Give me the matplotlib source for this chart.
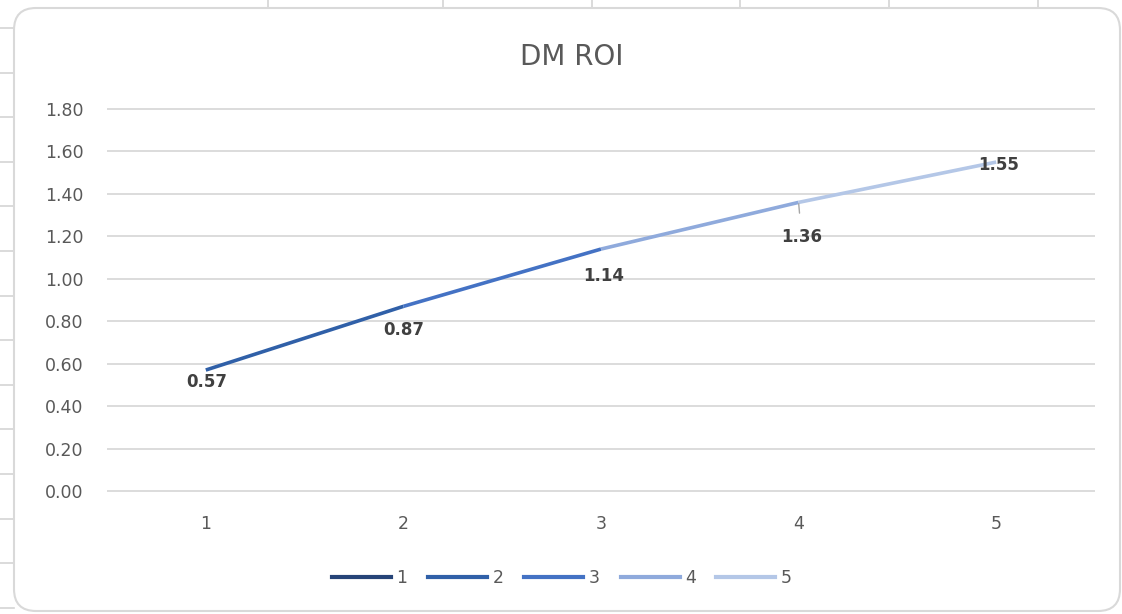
import matplotlib.pyplot as plt
from matplotlib.lines import Line2D
from matplotlib.patches import FancyBboxPatch
from matplotlib.transforms import IdentityTransform

plt.rcParams["font.family"] = ["DejaVu Sans"]

# chart values
categories = [1, 2, 3, 4, 5]
roi = [0.57, 0.87, 1.14, 1.36, 1.55]
series_names = ["1", "2", "3", "4", "5"]
point_colors = ["#264478", "#3060A8", "#4472C4", "#8FAADC", "#B4C7E7"]
y_ticks = [0.0, 0.2, 0.4, 0.6, 0.8, 1.0, 1.2, 1.4, 1.6, 1.8]

# label placement relative to each point (pixels)
label_offsets = [(1, -12), (0, -24), (3, -27), (3, -35), (2, -3)]

W, H = 1122, 614
fig = plt.figure(figsize=(W / 100, H / 100), dpi=100)
fig.patch.set_facecolor("white")

# spreadsheet cells showing around the chart object
cell_color = "#d4d4d4"
for x in [268, 443, 592, 740, 889, 1038]:
    fig.add_artist(Line2D([x / W, x / W], [1, 1 - 9 / H], color=cell_color, lw=1.2, zorder=-10))
for k in range(14):
    y = 28 + 44.6 * k
    fig.add_artist(Line2D([0, 14 / W], [1 - y / H, 1 - y / H], color=cell_color, lw=1.2, zorder=-10))

# chart area frame with rounded corners (display pixels, origin bottom-left)
frame = FancyBboxPatch((14, H - 611), 1106, 603,
                       boxstyle="round,pad=0,rounding_size=22",
                       transform=IdentityTransform(),
                       facecolor="white", edgecolor="#d9d9d9", lw=1.5, zorder=-5)
fig.add_artist(frame)

y0, y1 = -0.01, 1.81
px_per_unit = (491 - 109) / 1.8
bottom_px = 491 + 0.01 * px_per_unit
top_px = 109 - 0.01 * px_per_unit
ax = fig.add_axes([107 / W, 1 - bottom_px / H, 988 / W, (bottom_px - top_px) / H])
ax.set_facecolor("none")
ax.set_xlim(0.5, 5.5)
ax.set_ylim(y0, y1)

for s in ax.spines.values():
    s.set_visible(False)
ax.set_yticks(y_ticks)
ax.set_yticklabels([f"{v:.2f}" for v in y_ticks])
ax.set_xticks(categories)
ax.set_xticklabels([str(c) for c in categories])
ax.tick_params(axis="both", length=0, colors="#595959", labelsize=12.5)
ax.tick_params(axis="y", pad=17)
ax.tick_params(axis="x", pad=16)
ax.grid(axis="y", color="#d9d9d9", lw=1.3)
ax.set_axisbelow(True)

# each segment takes the colour of the point it runs into
for i in range(1, len(categories)):
    ax.plot(categories[i - 1:i + 1], roi[i - 1:i + 1], color=point_colors[i],
            lw=2.6, solid_capstyle="butt", zorder=3)

for i, (x, v) in enumerate(zip(categories, roi)):
    dx, dy = label_offsets[i]
    arrow = None
    if i == 3:
        arrow = dict(arrowstyle="-", color="#a6a6a6", lw=1, shrinkA=9, shrinkB=1)
    ax.annotate(f"{v:.2f}", xy=(x, v), xytext=(dx, dy), textcoords="offset pixels",
                ha="center", va="center", fontsize=12, fontweight="bold",
                color="#404040", arrowprops=arrow, zorder=4)

fig.text(572 / W, 1 - 57 / H, "DM ROI", ha="center", va="center",
         fontsize=20, color="#595959")

handles = [Line2D([], [], color=c, lw=3) for c in point_colors]
fig.legend(handles, series_names, loc="center", bbox_to_anchor=(562 / W, 1 - 578 / H),
           ncol=5, frameon=False, fontsize=12.5, labelcolor="#595959",
           handlelength=3.4, handletextpad=0.3, columnspacing=1.2)

fig.savefig("out.png", dpi=100)
